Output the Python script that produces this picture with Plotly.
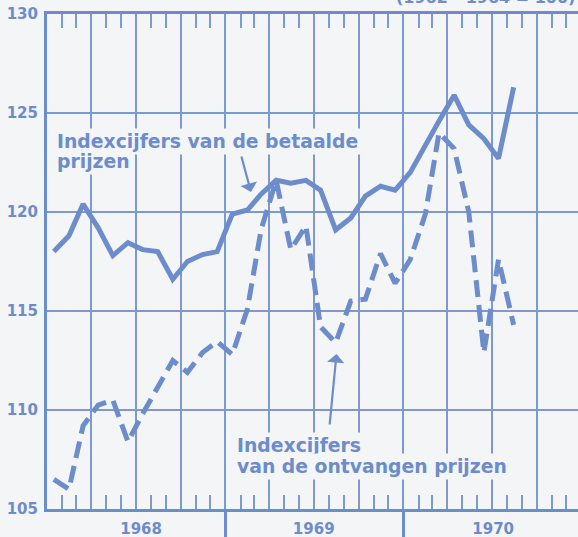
import plotly.graph_objects as go

# ---- data (monthly, Jan 1968 - Aug 1970) ----
months = [f"{1968 + i // 12}-{i % 12 + 1:02d}-15" for i in range(32)]
betaalde = [118.0, 118.8, 120.4, 119.2, 117.8, 118.45, 118.1, 118.0, 116.6, 117.5, 117.85, 118.0,
            119.9, 120.1, 120.9, 121.6, 121.45, 121.6, 121.1, 119.1, 119.7, 120.8, 121.3, 121.1,
            122.0, 123.4, 124.6, 125.9, 124.4, 123.7, 122.7, 126.3]
ontvangen = [106.5, 106.0, 109.2, 110.25, 110.5, 108.4, 109.8, 111.2, 112.5, 111.9, 112.9, 113.45,
             112.8, 115.1, 119.1, 121.6, 118.1, 119.3, 114.2, 113.4, 115.5, 115.6, 117.9, 116.4,
             117.6, 119.9, 124.0, 123.2, 120.0, 112.9, 117.6, 114.3]
year_labels = ["1968", "1969", "1970"]
year_label_pos = ["1968-07-12", "1969-07-01", "1970-07-04"]
year_bounds = ["1969-01-01", "1970-01-01"]
y_ticks = [105, 110, 115, 120, 125, 130]

# ---- styling ----
BLUE = "#6d8ccb"
GRID = "#7c99d1"
BG = "#f3f5f6"
FONT = "DejaVu Sans"
W, H = 578, 537
ML, MR, MT, MB = 47, 0, 14, 28
PW, PH = W - ML - MR, H - MT - MB
X_RANGE = ["1968-01-01", "1970-12-25"]


def px(x):
    return (x - ML) / PW


def py(y):
    return (H - MB - y) / PH


fig = go.Figure()
fig.add_trace(go.Scatter(x=months, y=betaalde, mode="lines",
                         line=dict(color=BLUE, width=5), showlegend=False, hoverinfo="skip"))
fig.add_trace(go.Scatter(x=months, y=ontvangen, mode="lines",
                         line=dict(color=BLUE, width=5, dash="17px,8px"), showlegend=False,
                         hoverinfo="skip"))
# helper (empty) traces so the overlay axes are drawn
fig.add_trace(go.Scatter(x=[], y=[], xaxis="x2", showlegend=False, hoverinfo="skip"))
fig.add_trace(go.Scatter(x=[], y=[], xaxis="x3", showlegend=False, hoverinfo="skip"))

fig.update_layout(
    width=W, height=H,
    margin=dict(l=ML, r=MR, t=MT, b=MB, autoexpand=False),
    paper_bgcolor=BG, plot_bgcolor=BG,
    xaxis=dict(type="date", range=X_RANGE, tick0="1968-01-01", dtick="M3",
               showgrid=True, gridcolor=GRID, gridwidth=2, ticks="", showticklabels=False,
               showline=True, linecolor=BLUE, linewidth=3, mirror="ticks", zeroline=False,
               minor=dict(dtick="M1", tick0="1968-01-01", ticks="inside", ticklen=14,
                          tickwidth=2, tickcolor=GRID, showgrid=False)),
    xaxis2=dict(type="date", range=X_RANGE, overlaying="x", anchor="y", side="bottom",
                tickmode="array", tickvals=year_label_pos, ticktext=year_labels,
                ticks="", showgrid=False, showline=False, zeroline=False,
                ticklabelstandoff=9,
                tickfont=dict(family=FONT, size=15, color=BLUE, weight="bold")),
    xaxis3=dict(type="date", range=X_RANGE, overlaying="x", anchor="y", side="bottom",
                tickmode="array", tickvals=year_bounds, ticks="outside", ticklen=30,
                tickwidth=3, tickcolor=BLUE, showticklabels=False, showgrid=False,
                showline=False, zeroline=False),
    yaxis=dict(range=[105, 130], tickmode="array", tickvals=y_ticks,
               showgrid=True, gridcolor=GRID, gridwidth=2, ticks="",
               showline=True, linecolor=BLUE, linewidth=3, mirror=False, zeroline=False,
               ticklabelstandoff=3,
               tickfont=dict(family=FONT, size=15, color=BLUE, weight="bold")),
)

tf = dict(family=FONT, size=18.8, color=BLUE, weight="bold")
texts = [
    ("Indexcijfers van de betaalde", 54, 141.7),
    ("prijzen", 54, 161.7),
    ("Indexcijfers", 234, 445),
    ("van de ontvangen prijzen", 234, 466.7),
]
for t, x, y in texts:
    fig.add_annotation(text=t, xref="paper", yref="paper", x=px(x), y=py(y),
                       xanchor="left", yanchor="middle", showarrow=False,
                       font=tf, bgcolor=BG, borderpad=2)

# arrows
fig.add_annotation(text="", xref="paper", yref="paper", x=px(251), y=py(192),
                   ax=-10, ay=-37, showarrow=True, arrowhead=1, arrowsize=1.3,
                   arrowwidth=2.2, arrowcolor=BLUE, standoff=0)
fig.add_annotation(text="", xref="paper", yref="paper", x=px(336.5), y=py(354),
                   ax=-7, ay=72, showarrow=True, arrowhead=1, arrowsize=1.3,
                   arrowwidth=2.2, arrowcolor=BLUE, standoff=0)

# partially visible base-period note at the top right (cut by the top edge, as in the source)
fig.add_annotation(text="(1962 - 1964 = 100)", xref="paper", yref="paper",
                   x=px(577), y=py(9), xanchor="right", yanchor="bottom",
                   showarrow=False, font=dict(family=FONT, size=16, color=BLUE, weight="bold"))

fig.write_html("out.html", config={"displayModeBar": False},
               post_script="document.body.style.margin='0';document.body.style.background='%s';" % BG)
